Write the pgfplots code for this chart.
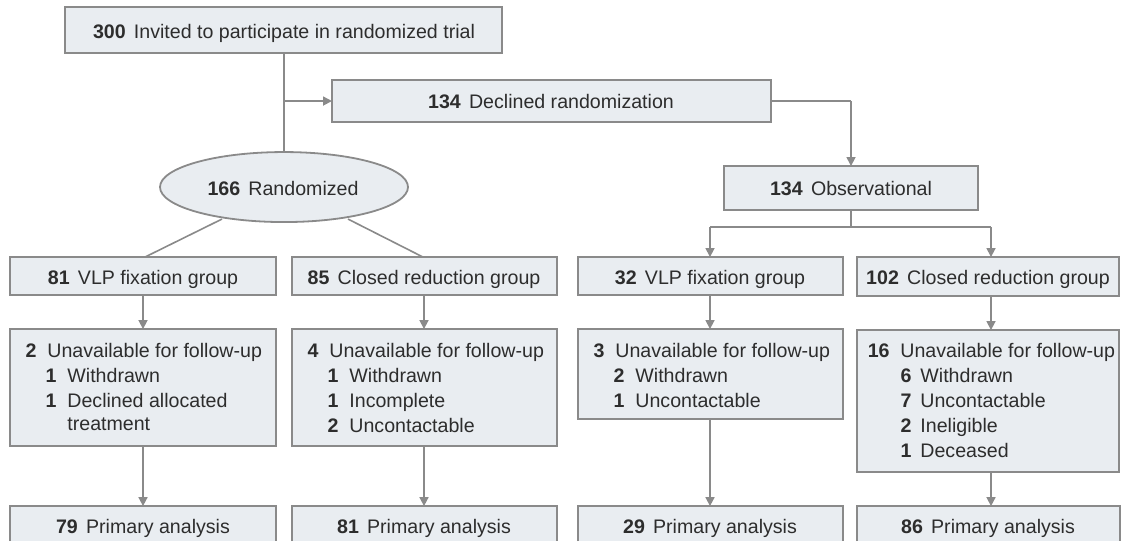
\documentclass[border=0pt]{standalone}
\usepackage{pgfplots}
\pgfplotsset{compat=1.18}
\usepackage{fontspec}
\setmainfont{Liberation Sans}
\usetikzlibrary{arrows.meta,shapes.geometric}
\definecolor{boxfill}{RGB}{233,237,241}
\definecolor{boxline}{RGB}{138,138,138}
\definecolor{txt}{RGB}{45,45,45}
\tikzset{
  bx/.style={draw=boxline, fill=boxfill, line width=0.9pt},
  arr/.style={draw=boxline, line width=0.8pt, -{Triangle[width=4.5pt,length=4.5pt]}},
  ln/.style={draw=boxline, line width=0.8pt},
  t/.style={text=txt, inner sep=0pt, font=\fontsize{9.8}{11}\selectfont},
}
\newcommand{\nm}[1]{\textbf{#1}\hspace{0.42em}}
\begin{document}
\begin{tikzpicture}
\begin{axis}[
  width=561pt, height=270.5pt, scale only axis,
  xmin=0, xmax=1122, ymin=0, ymax=541, y dir=reverse,
  axis lines=none, ticks=none, clip=false]
\path (0,0) rectangle (1122,541);
% ---- connectors ----
\draw[ln] (284,53) -- (284,153);
\draw[arr] (284,101) -- (332,101);
\draw[ln] (771,101) -- (851,101);
\draw[arr] (851,101) -- (851,166);
\draw[ln] (851,210) -- (851,227);
\draw[ln] (710,227) -- (991,227);
\draw[arr] (710,227) -- (710,257);
\draw[arr] (991,227) -- (991,257);
\draw[ln] (222,219) -- (145,257);
\draw[ln] (348,219) -- (423,257);
% ---- top boxes ----
\draw[bx] (65,7) rectangle (502,53);
\node[t,anchor=base] at (284,38) {\nm{300}Invited to participate in randomized trial};
\draw[bx] (332,80) rectangle (771,122);
\node[t,anchor=base] at (551,108) {\nm{134}Declined randomization};
\draw[bx] (724,166) rectangle (978,210);
\node[t,anchor=base] at (851,195) {\nm{134}Observational};
\node[bx, ellipse, minimum width=124pt, minimum height=35pt, inner sep=0pt] at (284,187) {};
\node[t,anchor=base] at (283,195) {\nm{166}Randomized};
% ---- group boxes ----
\draw[bx] (10,257) rectangle (276,295);
\node[t,anchor=base] at (143,284) {\nm{81}VLP fixation group};
\draw[bx] (292,257) rectangle (557,295);
\node[t,anchor=base] at (424,284) {\nm{85}Closed reduction group};
\draw[bx] (578,257) rectangle (843,295);
\node[t,anchor=base] at (710,284) {\nm{32}VLP fixation group};
\draw[bx] (857,257) rectangle (1119,296);
\node[t,anchor=base] at (988,284) {\nm{102}Closed reduction group};
% ---- arrows to follow-up boxes ----
\draw[arr] (143,295) -- (143,329);
\draw[arr] (424,295) -- (424,329);
\draw[arr] (710,295) -- (710,329);
\draw[arr] (991,296) -- (991,330);
% ---- follow-up boxes ----
\draw[bx] (10,329) rectangle (276,446);
\node[t,anchor=base east] at (37,357) {\textbf{2}};
\node[t,anchor=base west] at (47,357) {Unavailable for follow-up};
\node[t,anchor=base east] at (57,382) {\textbf{1}};
\node[t,anchor=base west] at (67,382) {Withdrawn};
\node[t,anchor=base east] at (57,407) {\textbf{1}};
\node[t,anchor=base west] at (67,407) {Declined allocated};
\node[t,anchor=base west] at (67,430) {treatment};
\draw[bx] (292,329) rectangle (557,446);
\node[t,anchor=base east] at (319,357) {\textbf{4}};
\node[t,anchor=base west] at (329,357) {Unavailable for follow-up};
\node[t,anchor=base east] at (339,382) {\textbf{1}};
\node[t,anchor=base west] at (349,382) {Withdrawn};
\node[t,anchor=base east] at (339,407) {\textbf{1}};
\node[t,anchor=base west] at (349,407) {Incomplete};
\node[t,anchor=base east] at (339,432) {\textbf{2}};
\node[t,anchor=base west] at (349,432) {Uncontactable};
\draw[bx] (578,329) rectangle (843,419);
\node[t,anchor=base east] at (605,357) {\textbf{3}};
\node[t,anchor=base west] at (615,357) {Unavailable for follow-up};
\node[t,anchor=base east] at (625,382) {\textbf{2}};
\node[t,anchor=base west] at (635,382) {Withdrawn};
\node[t,anchor=base east] at (625,407) {\textbf{1}};
\node[t,anchor=base west] at (635,407) {Uncontactable};
\draw[bx] (857,330) rectangle (1119,472);
\node[t,anchor=base east] at (890,357) {\textbf{16}};
\node[t,anchor=base west] at (900,357) {Unavailable for follow-up};
\node[t,anchor=base east] at (912,382) {\textbf{6}};
\node[t,anchor=base west] at (920,382) {Withdrawn};
\node[t,anchor=base east] at (912,407) {\textbf{7}};
\node[t,anchor=base west] at (920,407) {Uncontactable};
\node[t,anchor=base east] at (912,432) {\textbf{2}};
\node[t,anchor=base west] at (920,432) {Ineligible};
\node[t,anchor=base east] at (912,457) {\textbf{1}};
\node[t,anchor=base west] at (920,457) {Deceased};
% ---- arrows to primary analysis ----
\draw[arr] (143,446) -- (143,506);
\draw[arr] (424,446) -- (424,506);
\draw[arr] (710,419) -- (710,506);
\draw[arr] (991,472) -- (991,506);
% ---- primary analysis boxes (cut at bottom) ----
\fill[boxfill] (10,506) rectangle (276,541);
\draw[ln, line width=0.9pt] (10,541) -- (10,506) -- (276,506) -- (276,541);
\node[t,anchor=base] at (143,533) {\nm{79}Primary analysis};
\fill[boxfill] (292,506) rectangle (557,541);
\draw[ln, line width=0.9pt] (292,541) -- (292,506) -- (557,506) -- (557,541);
\node[t,anchor=base] at (424,533) {\nm{81}Primary analysis};
\fill[boxfill] (578,506) rectangle (843,541);
\draw[ln, line width=0.9pt] (578,541) -- (578,506) -- (843,506) -- (843,541);
\node[t,anchor=base] at (710,533) {\nm{29}Primary analysis};
\fill[boxfill] (857,506) rectangle (1120,541);
\draw[ln, line width=0.9pt] (857,541) -- (857,506) -- (1120,506) -- (1120,541);
\node[t,anchor=base] at (988,533) {\nm{86}Primary analysis};
\end{axis}
\end{tikzpicture}
\end{document}
